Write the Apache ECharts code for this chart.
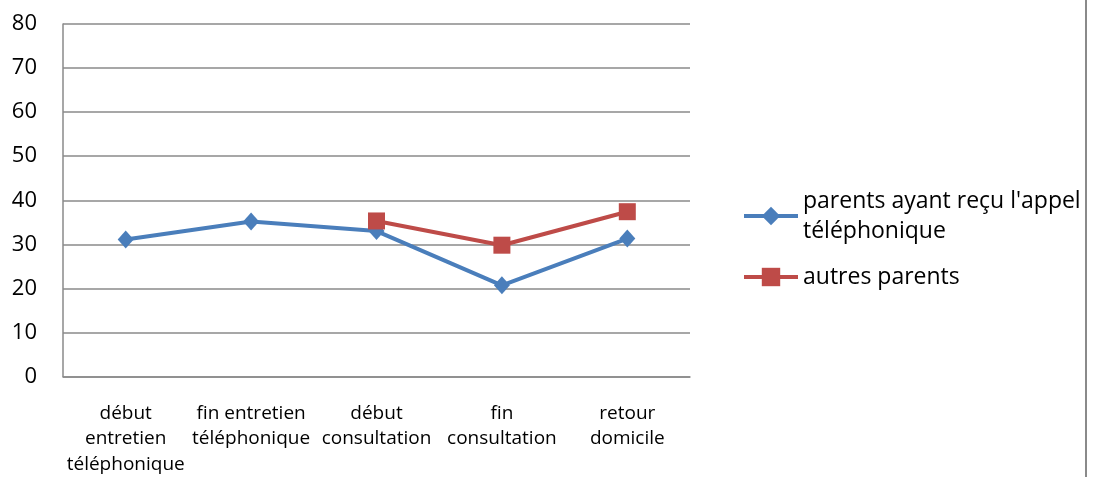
<!DOCTYPE html>
<html><head><meta charset="utf-8">
<script src="https://cdn.jsdelivr.net/npm/echarts@6/dist/echarts.min.js"></script>
<style>html,body{margin:0;padding:0;background:#fff}#c{width:1094px;height:477px}</style>
</head><body><div id="c"></div>
<script>
const categories = ["début\nentretien\ntéléphonique", "fin entretien\ntéléphonique", "début\nconsultation", "fin\nconsultation", "retour\ndomicile"];
const seriesNames = ["parents ayant reçu l'appel\ntéléphonique", "autres parents"];
const blueValues = [31.1, 35.2, 33.0, 20.7, 31.3];
const redValues = [null, null, 35.3, 29.8, 37.4];
const yMin = 0, yMax = 80, yStep = 10;

const FONT = '"Open Sans", "Noto Sans", sans-serif';
const chart = echarts.init(document.getElementById('c'), null, {renderer: 'canvas'});
chart.setOption({
  animation: false,
  backgroundColor: '#fff',
  grid: {left: 63, right: 404, top: 24, bottom: 100, containLabel: false},
  xAxis: {
    type: 'category', data: categories, boundaryGap: true,
    axisLine: {show: true, lineStyle: {color: '#8a8a8a', width: 1.5}},
    axisTick: {show: false},
    axisLabel: {interval: 0, margin: 24, fontFamily: FONT, fontSize: 19, lineHeight: 25.5, color: '#000'}
  },
  yAxis: {
    type: 'value', min: yMin, max: yMax, interval: yStep,
    axisLine: {show: true, lineStyle: {color: '#8a8a8a', width: 1.5}},
    axisTick: {show: false},
    splitLine: {show: true, lineStyle: {color: '#8a8a8a', width: 1.5}},
    axisLabel: {margin: 26, fontFamily: FONT, fontSize: 22, color: '#000'}
  },
  legend: [{
    data: [seriesNames[0]], orient: 'vertical', left: 737, top: 166,
    itemWidth: 54, itemHeight: 23,
    lineStyle: {width: 4},
    textStyle: {fontFamily: FONT, fontSize: 23, lineHeight: 30, color: '#000', padding: [30, 0, 0, 0]}
  }, {
    data: [seriesNames[1]], orient: 'vertical', left: 737, top: 257,
    itemWidth: 54, itemHeight: 23,
    lineStyle: {width: 4},
    textStyle: {fontFamily: FONT, fontSize: 23, lineHeight: 30, color: '#000'}
  }],
  series: [{
    name: seriesNames[0], type: 'line', data: blueValues,
    symbol: 'diamond', symbolSize: [16, 18],
    lineStyle: {color: '#4A7EBB', width: 4},
    itemStyle: {color: '#4A7EBB'}
  }, {
    name: seriesNames[1], type: 'line', data: redValues,
    symbol: 'rect', symbolSize: [17, 17],
    lineStyle: {color: '#BE4B48', width: 4},
    itemStyle: {color: '#BE4B48'}
  }],
  graphic: [{
    type: 'line', shape: {x1: 1086, y1: 0, x2: 1086, y2: 477},
    style: {stroke: '#8a8a8a', lineWidth: 2}
  }]
});
</script></body></html>
